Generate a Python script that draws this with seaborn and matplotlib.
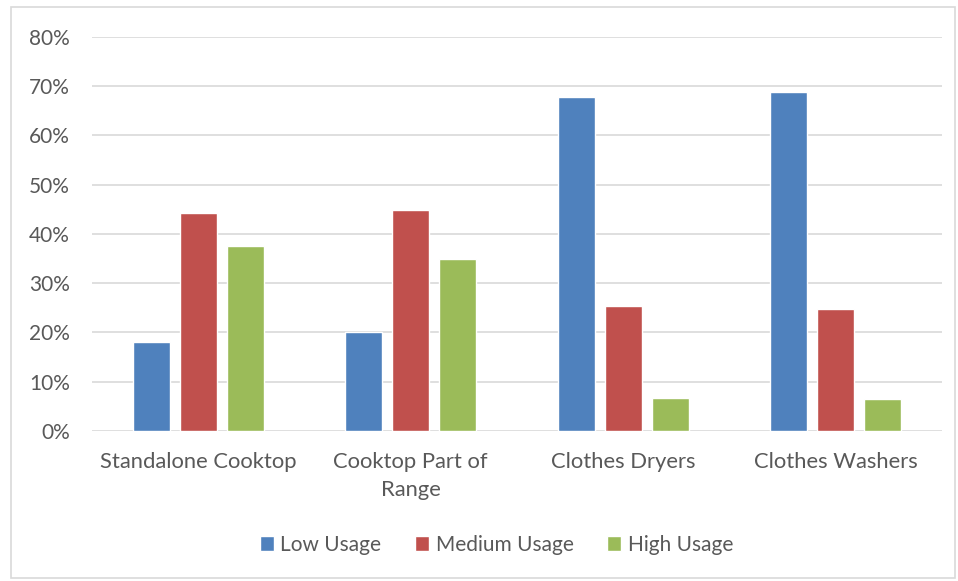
import matplotlib
matplotlib.use("Agg")
import matplotlib.pyplot as plt
import seaborn as sns
import pandas as pd
from matplotlib.patches import Rectangle
from matplotlib.ticker import FuncFormatter

categories = ["Standalone Cooktop", "Cooktop Part of\nRange", "Clothes Dryers", "Clothes Washers"]
series = ["Low Usage", "Medium Usage", "High Usage"]
low_usage = [18.1, 20.1, 67.8, 68.8]
medium_usage = [44.2, 44.8, 25.4, 24.7]
high_usage = [37.6, 35.0, 6.8, 6.5]
colors = ["#4F81BD", "#C0504D", "#9BBB59"]

rows = []
for s, vals in zip(series, [low_usage, medium_usage, high_usage]):
    for c, v in zip(categories, vals):
        rows.append({"Category": c, "Series": s, "Value": v})
df = pd.DataFrame(rows)

sns.set_theme(style="white")
plt.rcParams["font.family"] = ["Lato", "DejaVu Sans"]

fig = plt.figure(figsize=(9.58, 5.81), dpi=100)
ax = fig.add_axes([0.096, 0.258, 0.887, 0.679])

sns.barplot(data=df, x="Category", y="Value", hue="Series", order=categories,
            hue_order=series, palette=colors, width=0.664, gap=0.213,
            saturation=1, ax=ax, legend=True, errorbar=None)

ax.set_ylim(0, 80)
ax.set_xlim(-0.5, 3.5)
ax.set_yticks(range(0, 81, 10))
ax.yaxis.set_major_formatter(FuncFormatter(lambda v, p: f"{int(v)}%"))
ax.grid(axis="y", color="#d9d9d9", linewidth=1.2)
ax.set_axisbelow(True)
for sp in ax.spines.values():
    sp.set_visible(False)
ax.set_xlabel("")
ax.set_ylabel("")
ax.tick_params(axis="y", length=0, labelsize=15, colors="#595959", pad=16)
ax.tick_params(axis="x", length=0, labelsize=15.8, colors="#595959", pad=15)
for lbl in ax.get_xticklabels():
    lbl.set_linespacing(1.48)
    lbl.set_verticalalignment("top")

leg = ax.legend(loc="center", bbox_to_anchor=(0.518, 0.062), bbox_transform=fig.transFigure,
                ncol=3, frameon=False, fontsize=15, handlelength=0.7, handleheight=0.7,
                handletextpad=0.3, columnspacing=1.6, labelcolor="#595959")

fig.patches.append(Rectangle((11 / 958, 3 / 581), 944 / 958, 571 / 581, transform=fig.transFigure,
                             fill=False, edgecolor="#d9d9d9", linewidth=1.2))

fig.savefig("out.png", dpi=100)
